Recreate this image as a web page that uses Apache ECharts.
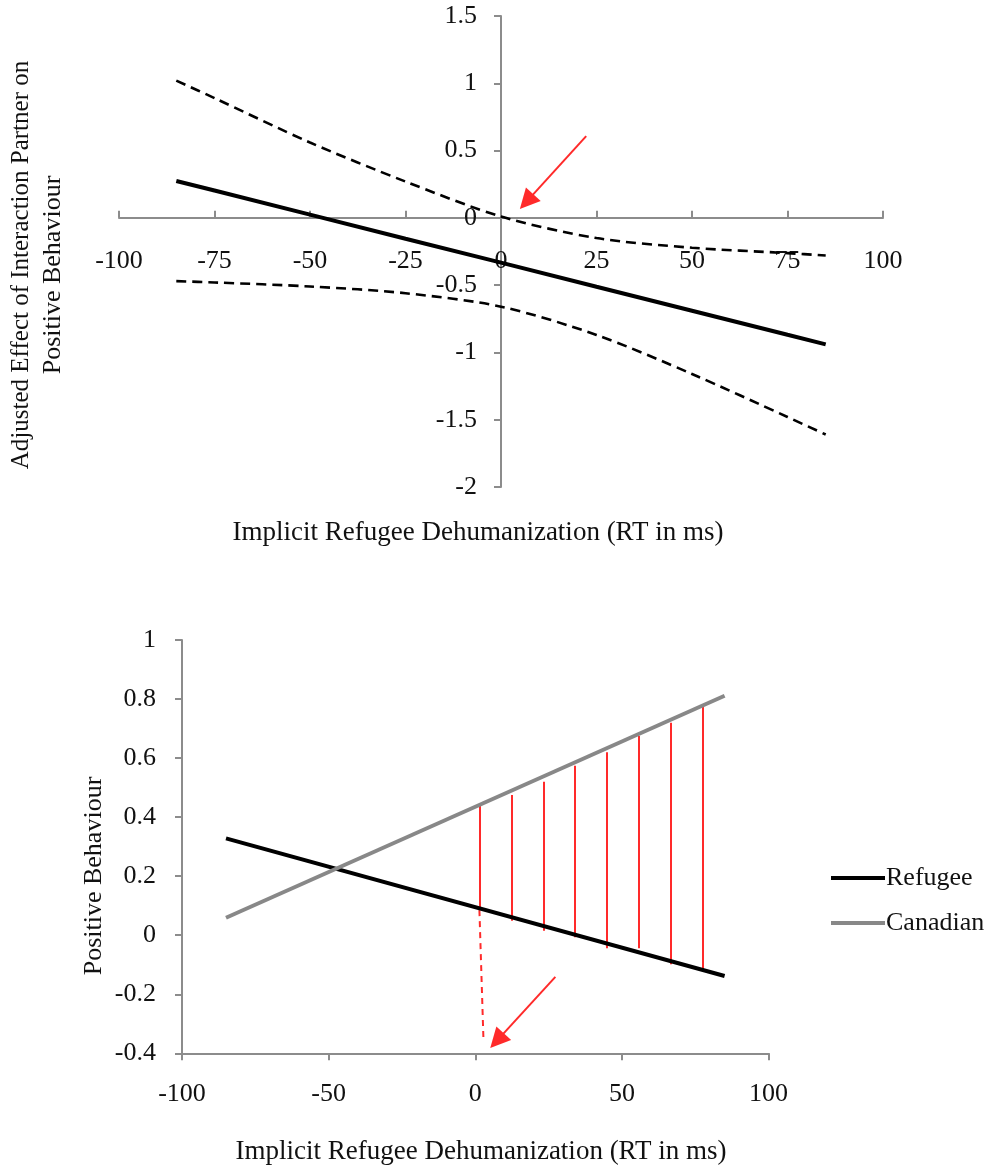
<!DOCTYPE html>
<html>
<head>
<meta charset="utf-8">
<script src="https://cdn.jsdelivr.net/npm/echarts@6/dist/echarts.min.js"></script>
<style>
  html, body { margin: 0; padding: 0; background: #fff; }
  #chart { width: 989px; height: 1167px; }
</style>
</head>
<body>
<div id="chart"></div>
<script>
// ---------- Top panel data ----------
const topX = [-85, -75, -50, -25, 0, 25, 50, 75, 85];
const topEffect = [0.274, 0.203, 0.024, -0.155, -0.333, -0.512, -0.690, -0.869, -0.940];
const topUpper = [1.02, 0.89, 0.56, 0.27, 0.01, -0.15, -0.222, -0.262, -0.28];
const topLower = [-0.47, -0.48, -0.51, -0.56, -0.66, -0.87, -1.16, -1.48, -1.61];
const topXTicks = { min: -100, max: 100, interval: 25 };
const topYTicks = { min: -2, max: 1.5, interval: 0.5 };
const topArrow = [[22.3, 0.607], [6.7, 0.121]];

// ---------- Bottom panel data ----------
const bottomX = [-85, 85];
const refugee = [0.328, -0.138];
const canadian = [0.059, 0.811];
const gapX = [1.4, 12.3, 23.2, 34.0, 44.9, 55.8, 66.7, 77.6];
const gapTop = [0.438, 0.475, 0.52, 0.574, 0.62, 0.675, 0.72, 0.774];
const gapBottom = [0.085, 0.049, 0.015, -0.007, -0.044, -0.044, -0.098, -0.12];
const projX = [1.4, 2.8];
const projY = [0.085, -0.36];
const bottomArrow = [[27.3, -0.141], [7.4, -0.357]];
const bottomXTicks = { min: -100, max: 100, interval: 50 };
const bottomYTicks = { min: -0.4, max: 1, interval: 0.2 };

const xTitle = 'Implicit Refugee Dehumanization (RT in ms)';
const topYTitle = ['Adjusted Effect of Interaction Partner on', 'Positive Behaviour'];
const bottomYTitle = 'Positive Behaviour';

// ---------- Styles ----------
const FONT = "'Liberation Serif', 'Times New Roman', serif";
const TXT = '#111';
const AXIS = '#8c8c8c';
const RED = '#ff2a2a';

const zip = (xs, ys) => xs.map((x, i) => [x, ys[i]]);

const chart = echarts.init(document.getElementById('chart'), null, { renderer: 'canvas' });

const labelStyle = { fontFamily: FONT, fontSize: 26, color: TXT };

// top grid geometry (px) — used only to move the labels next to the zero-crossing axis lines
const TOP = { left: 119, top: 16, width: 764, height: 471 };
const zeroFromBottom = TOP.height * 2 / 3.5; // y = 0 sits 2 of 3.5 units above the grid bottom

chart.setOption({
  animation: false,
  backgroundColor: '#fff',
  grid: [
    { left: TOP.left, top: TOP.top, width: TOP.width, height: TOP.height },
    { left: 182, top: 640, width: 586.6, height: 413.3 }
  ],
  xAxis: [
    {
      gridIndex: 0, type: 'value', ...topXTicks,
      axisLine: { onZero: true, lineStyle: { color: AXIS, width: 2 } },
      axisTick: { inside: true, length: 7, lineStyle: { color: AXIS, width: 2 } },
      axisLabel: { ...labelStyle, margin: 30 - zeroFromBottom },
      splitLine: { show: false }
    },
    {
      gridIndex: 1, type: 'value', ...bottomXTicks,
      axisLine: { onZero: false, lineStyle: { color: AXIS, width: 2 } },
      axisTick: { inside: false, length: 7, lineStyle: { color: AXIS, width: 2 } },
      axisLabel: { ...labelStyle, margin: 28 },
      splitLine: { show: false }
    }
  ],
  yAxis: [
    {
      gridIndex: 0, type: 'value', ...topYTicks,
      axisLine: { show: true, onZero: true, lineStyle: { color: AXIS, width: 2 } },
      axisTick: { show: true, length: 7, lineStyle: { color: AXIS, width: 2 } },
      axisLabel: { ...labelStyle, margin: 24 - TOP.width / 2 },
      splitLine: { show: false }
    },
    {
      gridIndex: 1, type: 'value', ...bottomYTicks,
      axisLine: { show: true, onZero: false, lineStyle: { color: AXIS, width: 2 } },
      axisTick: { show: true, length: 7, lineStyle: { color: AXIS, width: 2 } },
      axisLabel: { ...labelStyle, margin: 26 },
      splitLine: { show: false }
    }
  ],
  legend: {
    data: ['Refugee', 'Canadian'],
    orient: 'vertical',
    left: 826, top: 860,
    icon: 'rect',
    itemWidth: 54, itemHeight: 4, itemGap: 19,
    textStyle: { fontFamily: FONT, fontSize: 26, color: TXT, padding: [0, 0, 0, -4] }
  },
  graphic: [
    { type: 'text', x: 478, y: 533, style: { text: xTitle, font: '27px ' + FONT, fill: TXT, textAlign: 'center', textVerticalAlign: 'middle' } },
    { type: 'text', x: 481, y: 1152, style: { text: xTitle, font: '27px ' + FONT, fill: TXT, textAlign: 'center', textVerticalAlign: 'middle' } },
    { type: 'text', x: 21, y: 265, rotation: Math.PI / 2, style: { text: topYTitle[0], font: '25px ' + FONT, fill: TXT, textAlign: 'center', textVerticalAlign: 'middle' } },
    { type: 'text', x: 53, y: 275, rotation: Math.PI / 2, style: { text: topYTitle[1], font: '26px ' + FONT, fill: TXT, textAlign: 'center', textVerticalAlign: 'middle' } },
    { type: 'text', x: 94, y: 876, rotation: Math.PI / 2, style: { text: bottomYTitle, font: '26px ' + FONT, fill: TXT, textAlign: 'center', textVerticalAlign: 'middle' } }
  ],
  series: [
    // Top panel
    { name: 'Effect', type: 'line', xAxisIndex: 0, yAxisIndex: 0, data: zip(topX, topEffect), symbol: 'none',
      lineStyle: { color: '#000', width: 4 }, itemStyle: { color: '#000' } },
    { name: 'Upper CI', type: 'line', xAxisIndex: 0, yAxisIndex: 0, data: zip(topX, topUpper), symbol: 'none', smooth: 0.3,
      lineStyle: { color: '#000', width: 2.6, type: [10, 6] }, itemStyle: { color: '#000' } },
    { name: 'Lower CI', type: 'line', xAxisIndex: 0, yAxisIndex: 0, data: zip(topX, topLower), symbol: 'none', smooth: 0.3,
      lineStyle: { color: '#000', width: 2.6, type: [10, 6] }, itemStyle: { color: '#000' } },
    { name: 'Top arrow', type: 'lines', coordinateSystem: 'cartesian2d', xAxisIndex: 0, yAxisIndex: 0,
      symbol: ['none', 'triangle'], symbolSize: 20, silent: true,
      lineStyle: { color: RED, width: 2, opacity: 1, curveness: 0 },
      data: [{ coords: topArrow }] },
    // Bottom panel
    { name: 'Refugee', type: 'line', xAxisIndex: 1, yAxisIndex: 1, data: zip(bottomX, refugee), symbol: 'none',
      lineStyle: { color: '#000', width: 4 }, itemStyle: { color: '#000' } },
    { name: 'Canadian', type: 'line', xAxisIndex: 1, yAxisIndex: 1, data: zip(bottomX, canadian), symbol: 'none',
      lineStyle: { color: '#888', width: 4 }, itemStyle: { color: '#888' } },
    { name: 'Gap', type: 'lines', coordinateSystem: 'cartesian2d', xAxisIndex: 1, yAxisIndex: 1, silent: true,
      lineStyle: { color: RED, width: 2, opacity: 1, curveness: 0 },
      data: gapX.map((x, i) => ({ coords: [[x, gapTop[i]], [x, gapBottom[i]]] })) },
    { name: 'Projection', type: 'lines', coordinateSystem: 'cartesian2d', xAxisIndex: 1, yAxisIndex: 1, silent: true,
      lineStyle: { color: RED, width: 2, opacity: 1, type: [6, 5], curveness: 0 },
      data: [{ coords: zip(projX, projY) }] },
    { name: 'Bottom arrow', type: 'lines', coordinateSystem: 'cartesian2d', xAxisIndex: 1, yAxisIndex: 1,
      symbol: ['none', 'triangle'], symbolSize: 20, silent: true,
      lineStyle: { color: RED, width: 2, opacity: 1, curveness: 0 },
      data: [{ coords: bottomArrow }] }
  ]
});
</script>
</body>
</html>
